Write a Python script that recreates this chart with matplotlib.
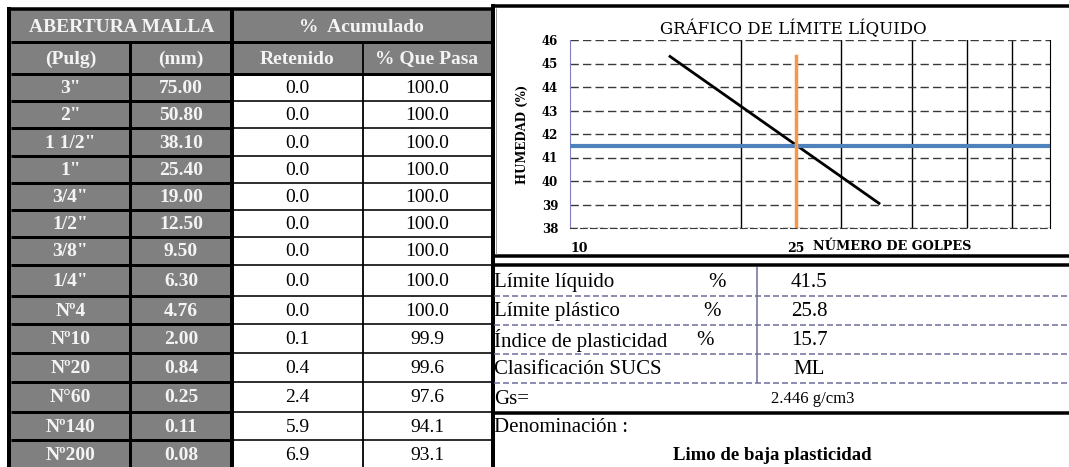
import numpy as np
import matplotlib
matplotlib.use("Agg")
import matplotlib.pyplot as plt
from matplotlib.patches import Rectangle

# ---------------- datos ----------------
pulg = ['3"', '2"', '1 1/2"', '1"', '3/4"', '1/2"', '3/8"', '1/4"',
        'Nº4', 'Nº10', 'Nº20', 'N°60', 'Nº140', 'Nº200']
mm = [75.00, 50.80, 38.10, 25.40, 19.00, 12.50, 9.50, 6.30,
      4.76, 2.00, 0.84, 0.25, 0.11, 0.08]
retenido = [0.0, 0.0, 0.0, 0.0, 0.0, 0.0, 0.0, 0.0, 0.0, 0.1, 0.4, 2.4, 5.9, 6.9]
pasa = [100.0, 100.0, 100.0, 100.0, 100.0, 100.0, 100.0, 100.0,
        100.0, 99.9, 99.6, 97.6, 94.1, 93.1]

golpes = [15, 35]          # recta de fluidez
humedad = [45.3, 39.05]
golpes_ref = 25
limite_liquido = 41.5

etiquetas = ["Límite líquido", "Límite plástico", "Índice de plasticidad", "Clasificación SUCS"]
valores = ["41.5", "25.8", "15.7", "ML"]
unidades = ["%", "%", "%", ""]
gs = "2.446 g/cm3"
denominacion = "Limo de baja plasticidad"

# ---------------- figura ----------------
W, H = 1069, 467
fig = plt.figure(figsize=(W / 100, H / 100), dpi=100)
bg = fig.add_axes([0, 0, 1, 1])
bg.set_xlim(0, W)
bg.set_ylim(H, 0)
bg.set_axis_off()

def px(v):  # pixels -> points
    return v * 0.72

GRIS = "#808080"
BLANCO = "#f4f4f4"
SERIF = "Liberation Serif"

col_x = [11, 130, 232, 363, 491]
row_y = [10, 42, 74, 101, 128, 156, 183, 210, 237, 265, 296, 324, 353, 382, 412, 440, 468]

# celdas grises
bg.add_patch(Rectangle((col_x[0], row_y[0]), col_x[4] - col_x[0], row_y[2] - row_y[0], color=GRIS, lw=0))
bg.add_patch(Rectangle((col_x[0], row_y[2]), col_x[2] - col_x[0], H - row_y[2], color=GRIS, lw=0))

# encabezados
def celda(x0, x1, y0, y1, txt, **kw):
    bg.text((x0 + x1) / 2, (y0 + y1) / 2 + 1, txt, ha="center", va="center",
            family=SERIF, **kw)

celda(col_x[0], col_x[2], row_y[0], row_y[1], "ABERTURA MALLA", color=BLANCO, fontsize=14, weight="bold")
celda(col_x[2], col_x[4], row_y[0], row_y[1], "%  Acumulado", color=BLANCO, fontsize=14, weight="bold")
for i, t in enumerate(["(Pulg)", "(mm)", "Retenido", "% Que Pasa"]):
    celda(col_x[i], col_x[i + 1], row_y[1], row_y[2], t, color=BLANCO, fontsize=14, weight="bold")

for k in range(len(pulg)):
    y0, y1 = row_y[k + 2], row_y[k + 3]
    celda(col_x[0], col_x[1], y0, y1, pulg[k], color=BLANCO, fontsize=14, weight="bold")
    celda(col_x[1], col_x[2], y0, y1, f"{mm[k]:.2f}", color=BLANCO, fontsize=14, weight="bold")
    celda(col_x[2], col_x[3], y0, y1, f"{retenido[k]:.1f}", color="black", fontsize=14)
    celda(col_x[3], col_x[4], y0, y1, f"{pasa[k]:.1f}", color="black", fontsize=14)

# bordes tabla izquierda
bg.plot([7, col_x[4]], [8.5, 8.5], color="black", lw=px(3.5), solid_capstyle="butt")
for y in row_y[1:-1]:
    bg.plot([col_x[0], col_x[2]], [y, y], color="black", lw=px(3), solid_capstyle="butt")
for y in row_y[1:3]:
    bg.plot([col_x[2], col_x[4]], [y, y], color="black", lw=px(3), solid_capstyle="butt")
for y in row_y[3:-1]:
    bg.plot([col_x[2], col_x[4]], [y, y], color="black", lw=px(1.6), solid_capstyle="butt")
bg.plot([9, 9], [7, H], color="black", lw=px(4), solid_capstyle="butt")
bg.plot([col_x[1], col_x[1]], [row_y[1], H], color="black", lw=px(3), solid_capstyle="butt")
bg.plot([col_x[2], col_x[2]], [row_y[0], H], color="black", lw=px(4), solid_capstyle="butt")
bg.plot([col_x[3], col_x[3]], [row_y[1], H], color="black", lw=px(1.8), solid_capstyle="butt")
bg.plot([492.5, 492.5], [4, H], color="black", lw=px(4), solid_capstyle="butt")

# caja del grafico
bg.plot([491, W], [6, 6], color="black", lw=px(3.5), solid_capstyle="butt")
bg.plot([491, W], [256, 256], color="black", lw=px(3.5), solid_capstyle="butt")
bg.plot([491, W], [265, 265], color="black", lw=px(3.5), solid_capstyle="butt")
bg.plot([496, 496], [8, 254], color="#9a9a9a", lw=px(1), solid_capstyle="butt")

# tabla de resultados
low_y = [267, 296, 325, 354, 383, 413, 440, 468]
x_pct = [717, 712, 705, 0]
for y in low_y[1:5]:
    bg.plot([494, W], [y, y], color="#6b6b9b", lw=px(1.5), ls=(0, (4, 2)))
bg.plot([494, W], [413, 413], color="black", lw=px(3.5), solid_capstyle="butt")
bg.plot([757, 757], [267, 383], color="#6b6b9b", lw=px(1.5), solid_capstyle="butt")
for k in range(len(etiquetas)):
    yc = (low_y[k] + low_y[k + 1]) / 2 + 1
    bg.text(494, yc, etiquetas[k], ha="left", va="center", family=SERIF, fontsize=15)
    bg.text(x_pct[k], yc, unidades[k], ha="center", va="center", family=SERIF, fontsize=15)
    bg.text(809, yc, valores[k], ha="center", va="center", family=SERIF, fontsize=15)
yc = (low_y[4] + low_y[5]) / 2 + 1
bg.text(494, yc, "Gs=", ha="left", va="center", family=SERIF, fontsize=15)
bg.text(813, yc, gs, ha="center", va="center", family=SERIF, fontsize=12)
bg.text(494, (low_y[5] + low_y[6]) / 2 + 1, "Denominación :", ha="left", va="center", family=SERIF, fontsize=15)
bg.text(772, (low_y[6] + low_y[7]) / 2 + 1, denominacion, ha="center", va="center",
        family=SERIF, fontsize=13.5, weight="bold")

# ---------------- grafico limite liquido ----------------
CH = "DejaVu Serif"
ax = fig.add_axes([570 / W, 1 - 228 / H, 480 / W, 188 / H])
ax.set_facecolor("white")
ax.set_xscale("log")
ax.set_xlim(10, 70)
ax.set_ylim(38, 46)

ax.set_yticks(np.arange(38, 47))
ax.set_yticklabels([str(v) for v in range(38, 47)], family=CH, weight="bold", fontsize=8.5)
ax.set_xticks([10, golpes_ref])
ax.set_xticklabels(["10", "25"], family=CH, weight="bold", fontsize=9)
ax.set_xticks([20, 30, 40, 50, 60], minor=True)
ax.xaxis.set_minor_formatter(matplotlib.ticker.NullFormatter())
ax.tick_params(axis="both", which="both", length=0)
ax.tick_params(axis="y", pad=8.5)
ax.tick_params(axis="x", pad=10)
xl = ax.get_xticklabels()
xl[0].set_horizontalalignment("left")
xl[0].set_x(10.4)
xl[1].set_horizontalalignment("center")

ax.grid(True, axis="y", which="major", color="#3a3a3a", ls=(0, (6, 3)), lw=1)
ax.grid(True, axis="x", which="minor", color="black", ls="-", lw=1)
ax.set_axisbelow(True)

ax.spines["top"].set_visible(False)
ax.spines["bottom"].set_color("#3a3a3a")
ax.spines["bottom"].set_linestyle((0, (6, 3)))
ax.spines["left"].set_color("#8080c0")
ax.spines["right"].set_color("black")

ax.plot(golpes, humedad, color="black", lw=2, zorder=3)
ax.axhline(limite_liquido, color="#4f81bd", lw=3, zorder=4)
ax.plot([golpes_ref, golpes_ref], [38, humedad[0]], color="#f79646", lw=2.5, zorder=4)

ax.set_ylabel("HUMEDAD (%)", family=CH, weight="bold", fontsize=8.5, labelpad=9)
ax.set_title("GRÁFICO DE LÍMITE LÍQUIDO", family=CH, fontsize=12, pad=4, x=0.465)
ax.text(0.506, -0.1, "NÚMERO DE GOLPES", transform=ax.transAxes, family=CH,
        weight="bold", fontsize=9.3, ha="left", va="center")

fig.savefig("out.png", dpi=100)
